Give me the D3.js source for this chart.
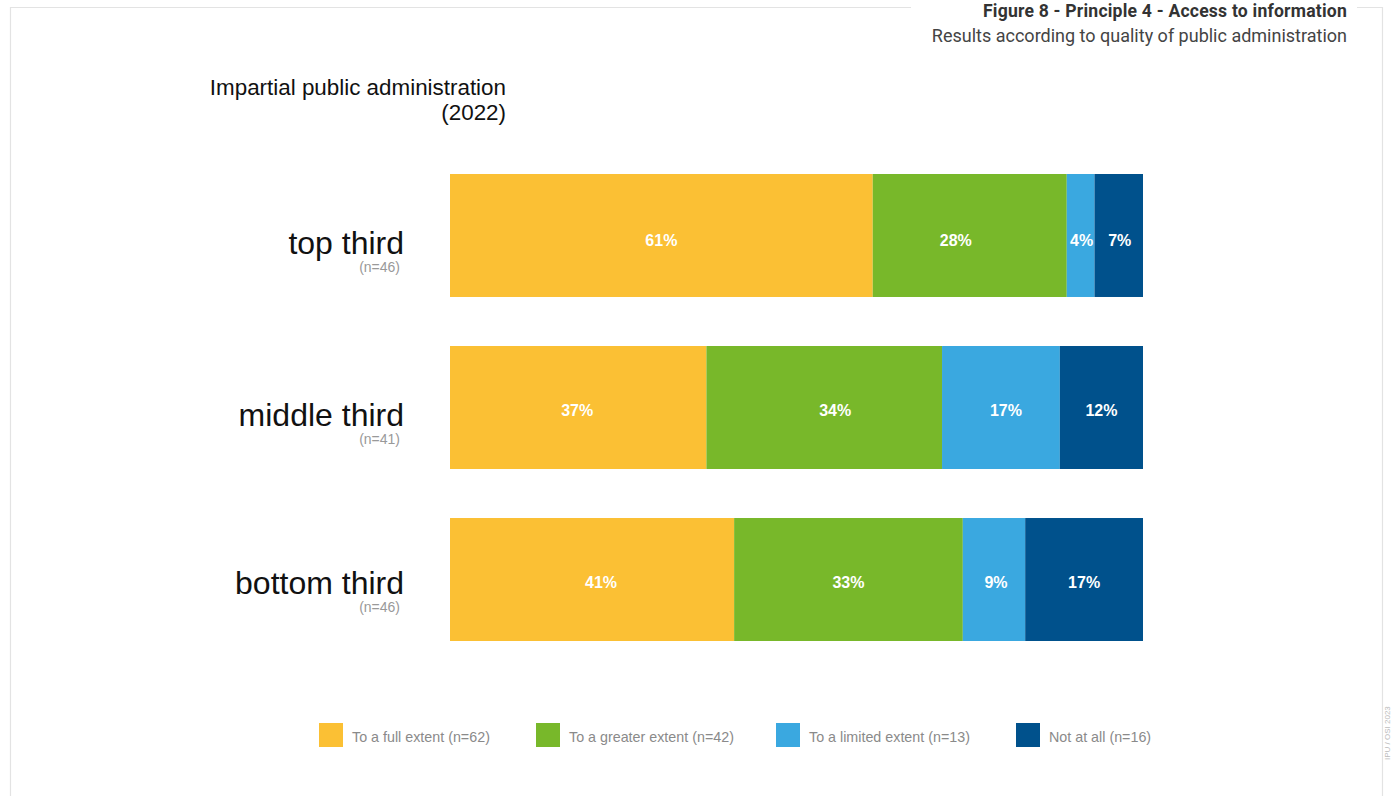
<!DOCTYPE html>
<html>
<head>
<meta charset="utf-8">
<script src="https://cdn.jsdelivr.net/npm/d3@7"></script>
<style>
  html, body { margin: 0; padding: 0; background: #fff; }
  svg { display: block; }
</style>
</head>
<body>
<svg id="chart" width="1391" height="796"></svg>
<script>
// Groups (rows) and the number of respondents in each
const groups = ["top third", "middle third", "bottom third"];
const groupN = ["(n=46)", "(n=41)", "(n=46)"];

// Answer categories, legend texts and colours
const answers = ["full", "greater", "limited", "none"];
const legendLabels = [
  "To a full extent (n=62)",
  "To a greater extent (n=42)",
  "To a limited extent (n=13)",
  "Not at all (n=16)"
];
const colors = ["#FBC034", "#78B82A", "#3AA8E0", "#00518C"];

// Percentage shares per group, in the order of `answers`
const fullExtent    = [61, 37, 41];
const greaterExtent = [28, 34, 33];
const limitedExtent = [4, 17, 9];
const notAtAll      = [7, 12, 17];

const svg = d3.select("#chart");
const font = "'Liberation Sans', Arial, Helvetica, sans-serif";
const roboto = "Roboto, 'Liberation Sans', Arial, sans-serif";

// Frame around the figure, with a gap behind the heading
const frame = svg.append("g").attr("stroke", "#e3e3e3").attr("stroke-width", 1.2).attr("fill", "none");
frame.append("path").attr("d", "M10.5,800 V7.5 H911");
frame.append("path").attr("d", "M1357,7.5 H1382.5 V800");

// Heading
svg.append("text")
  .attr("x", 1347).attr("y", 16.5)
  .attr("text-anchor", "end")
  .attr("font-family", roboto).attr("font-weight", 700)
  .attr("font-size", 17.6).attr("letter-spacing", 0.2).attr("fill", "#333")
  .text("Figure 8 - Principle 4 - Access to information");
svg.append("text")
  .attr("x", 1347).attr("y", 42)
  .attr("text-anchor", "end")
  .attr("font-family", roboto)
  .attr("font-size", 18).attr("fill", "#444")
  .text("Results according to quality of public administration");

// Chart title
const title = svg.append("text")
  .attr("text-anchor", "end")
  .attr("font-family", font).attr("font-size", 22.4).attr("fill", "#111");
title.append("tspan").attr("x", 506).attr("y", 95).text("Impartial public administration");
title.append("tspan").attr("x", 506).attr("y", 120).text("(2022)");

// Stack the data
const rows = groups.map((g, i) => ({
  group: g,
  full: fullExtent[i],
  greater: greaterExtent[i],
  limited: limitedExtent[i],
  none: notAtAll[i]
}));
const series = d3.stack().keys(answers)(rows);

const x = d3.scaleLinear().domain([0, 100]).range([450, 1143]);
const y = d3.scaleBand().domain(groups).range([174, 641]).paddingInner(0.285).paddingOuter(0);
const color = d3.scaleOrdinal().domain(answers).range(colors);

const layers = svg.append("g").selectAll("g")
  .data(series).join("g")
  .attr("fill", d => color(d.key));

layers.selectAll("rect")
  .data(d => d.map(v => ({ v, key: d.key })))
  .join("rect")
  .attr("x", d => x(d.v[0]))
  .attr("y", d => y(d.v.data.group))
  .attr("width", d => x(d.v[1]) - x(d.v[0]))
  .attr("height", y.bandwidth());

// Value labels inside the segments (small horizontal nudges per row/segment)
const labelDy = [6, 4, 4.5];
const labelDx = [
  [0, -14, 1, 1],
  [-1, 11, 5, 0],
  [9, 0, 2, 0]
];
layers.selectAll("text")
  .data((d, k) => d.map((v, r) => ({ v, key: d.key, k, r })))
  .join("text")
  .attr("x", d => (x(d.v[0]) + x(d.v[1])) / 2 + labelDx[d.r][d.k])
  .attr("y", d => y(d.v.data.group) + y.bandwidth() / 2 + labelDy[d.r])
  .attr("text-anchor", "middle")
  .attr("dominant-baseline", "middle")
  .attr("font-family", font).attr("font-weight", 700)
  .attr("font-size", 16).attr("fill", "#fff")
  .text(d => (d.v[1] - d.v[0]) + "%");

// Row labels
const rowLabelShift = [7.5, 7.5, 3.5];
const rowLabels = svg.append("g").selectAll("g")
  .data(groups).join("g")
  .attr("transform", (g, i) => `translate(404,${y(g) + y.bandwidth() / 2 + rowLabelShift[i]})`);
rowLabels.append("text")
  .attr("y", 11)
  .attr("text-anchor", "end")
  .attr("font-family", font).attr("font-size", 32).attr("fill", "#111")
  .text(d => d);
rowLabels.append("text")
  .attr("x", -4).attr("y", 29)
  .attr("text-anchor", "end")
  .attr("font-family", font).attr("font-size", 14).attr("fill", "#999")
  .text((d, i) => groupN[i]);

// Legend
const legendX = [319, 536, 776, 1016];
const legend = svg.append("g").selectAll("g")
  .data(answers).join("g")
  .attr("transform", (d, i) => `translate(${legendX[i]},723)`);
legend.append("rect")
  .attr("width", 24).attr("height", 24)
  .attr("fill", d => color(d));
legend.append("text")
  .attr("x", 33).attr("y", 18.5)
  .attr("font-family", font).attr("font-size", 14.3).attr("fill", "#8a8a8a")
  .text((d, i) => legendLabels[i]);

// Source note along the right edge
svg.append("text")
  .attr("transform", "translate(1390,760) rotate(-90)")
  .attr("font-family", font).attr("font-size", 8).attr("fill", "#bbb")
  .text("IPU / OSI 2023");
</script>
</body>
</html>
